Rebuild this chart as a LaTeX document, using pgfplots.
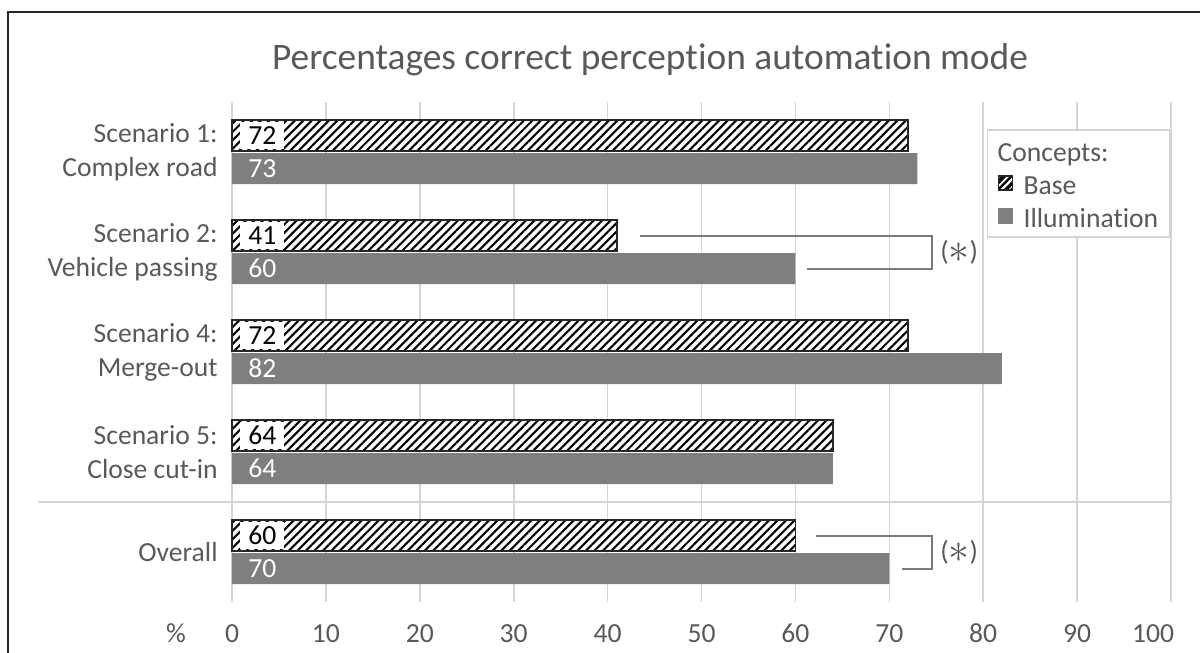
\documentclass[border=0pt]{standalone}
\usepackage{fontspec}
\setmainfont{Carlito}[Ligatures=NoCommon]
\usepackage{pgfplots}
\pgfplotsset{compat=1.18}
\usepackage{pgfplotstable}
\usetikzlibrary{patterns.meta}

\definecolor{txt}{HTML}{595959}
\definecolor{gridc}{HTML}{D4D4D4}
\definecolor{illum}{HTML}{7F7F7F}
\definecolor{edge}{HTML}{262626}
\definecolor{brk}{HTML}{7A7A7A}

% share of correct perceptions per scenario (%)
\pgfplotstableread{
pos base illum
0   72   73
1   41   60
2   72   82
3   64   64
4   60   70
}\perception

\tikzset{
  hatch/.style={fill=white, draw=edge, line width=0.6pt,
    postaction={pattern={Lines[angle=45,distance=3pt,line width=1.05pt]}, pattern color=black}},
}
\newcommand{\lblfont}{\fontsize{13.8}{17}\selectfont}
\newcommand{\sig}{(\raisebox{-0.15ex}{\scalebox{1.45}{$\ast$}})}

\begin{document}
\begin{tikzpicture}
\useasboundingbox (-116pt,-25.5pt) rectangle (484pt,301pt);
\begin{axis}[
  at={(0,0)}, anchor=south west,
  scale only axis, width=469.5pt, height=250pt,
  xmin=0, xmax=100, ymin=-0.5, ymax=4.5, y dir=reverse,
  clip=false,
  /pgf/number format/assume math mode=true,
  axis line style={draw=none},
  tick style={draw=none},
  xtick={0,10,...,100},
  xticklabels={0,10,20,30,40,50,60,70,80,90,{\hspace*{-18pt}100}},
  ytick={0,...,4},
  yticklabels={{Scenario 1:\\Complex road},{Scenario 2:\\Vehicle passing},
               {Scenario 4:\\Merge-out},{Scenario 5:\\Close cut-in},Overall},
  xmajorgrids, major grid style={gridc, line width=0.8pt},
  ticklabel style={font=\lblfont, text=txt},
  xticklabel style={anchor=base, yshift=-20pt},
  yticklabel style={align=right, anchor=east, inner sep=0pt, xshift=-7pt},
  legend style={at={(axis description cs:1,1)}, anchor=north east, yshift=-13.5pt,
    draw=gridc, line width=0.8pt, fill=white, font=\lblfont, text=txt,
    inner xsep=5pt, inner ysep=2pt, row sep=0pt,
    nodes={inner ysep=0pt, inner xsep=1pt, text height=14pt, text depth=2.5pt}},
  legend cell align=left,
]
\addlegendimage{empty legend}
\addlegendentry{\hspace*{-13pt}Concepts:}

\addplot[xbar, bar width=0.31, bar shift=-0.165, hatch,
  legend image code/.code={
    \path (0pt,0pt) (11.5pt,0pt);
    \draw[fill=white, draw=edge, line width=0.6pt,
      postaction={pattern={Lines[angle=45,distance=2.2pt,line width=0.9pt]}, pattern color=black}]
      (0.3pt,-3.3pt) rectangle (7.3pt,3.7pt);}]
  table[x=base, y=pos]{\perception};
\addlegendentry{Base}

\addplot[xbar, bar width=0.31, bar shift=0.165, fill=illum, draw=none,
  legend image code/.code={
    \path (0pt,0pt) (11.5pt,0pt);
    \fill[illum] (0pt,-3.6pt) rectangle (7.6pt,4pt);}]
  table[x=illum, y=pos]{\perception};
\addlegendentry{Illumination}

% value labels at the start of each bar
\addplot[draw=none, forget plot, nodes near coords, point meta=explicit,
  nodes near coords align={horizontal},
  every node near coord/.append style={anchor=west, xshift=4pt, fill=white,
    inner xsep=4pt, inner ysep=0pt, minimum height=13.5pt, text=black, font=\lblfont}]
  table[x expr=0, y expr=\thisrow{pos}-0.165, meta=base]{\perception};
\addplot[draw=none, forget plot, nodes near coords, point meta=explicit,
  nodes near coords align={horizontal},
  every node near coord/.append style={anchor=west, xshift=4pt,
    inner xsep=4pt, inner ysep=0pt, text=white, font=\lblfont}]
  table[x expr=0, y expr=\thisrow{pos}+0.165, meta=illum]{\perception};

% separator above the overall group
\draw[gridc, line width=0.8pt] ([xshift=-97pt]axis cs:0,3.5) -- (axis cs:100,3.5);

% significance brackets
\draw[brk, line width=1pt] (axis cs:43.5,0.835) -- (axis cs:74.5,0.835)
  -- (axis cs:74.5,1.165) -- (axis cs:61.2,1.165);
\node[anchor=west, font=\lblfont, text=txt, inner sep=0pt] at (axis cs:75.4,1) {\sig};
\draw[brk, line width=1pt] (axis cs:62.2,3.835) -- (axis cs:74.5,3.835)
  -- (axis cs:74.5,4.165) -- (axis cs:71.3,4.165);
\node[anchor=west, font=\lblfont, text=txt, inner sep=0pt] at (axis cs:75.4,4) {\sig};

% unit label beside the x tick labels
\node[anchor=base, font=\lblfont, text=txt] at ([xshift=-28pt,yshift=-20pt]axis description cs:0,0) {\%};
\end{axis}

\node[font=\fontsize{18.7}{22}\selectfont, text=txt] at (209pt,271pt)
  {Percentages correct perception automation mode};
\draw[black!85, line width=1pt] (-112pt,-30pt) -- (-112pt,295pt) -- (490pt,295pt);
\end{tikzpicture}
\end{document}
